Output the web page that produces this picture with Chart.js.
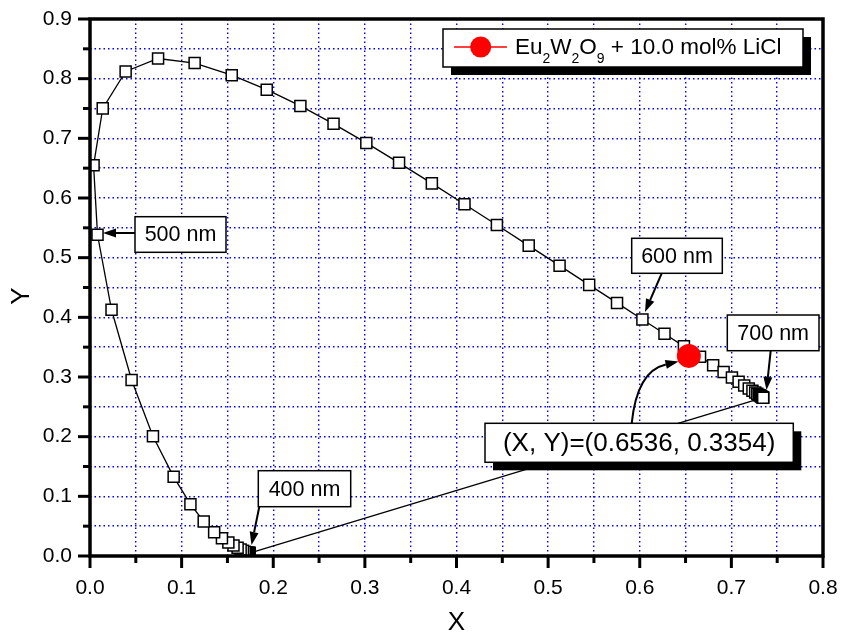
<!DOCTYPE html>
<html>
<head>
<meta charset="utf-8">
<title>CIE chromaticity</title>
<script src="https://cdn.jsdelivr.net/npm/chart.js@4/dist/chart.umd.min.js"></script>
<style>
  html, body { margin: 0; padding: 0; background: #fff; }
  #wrap { width: 849px; height: 636px; }
</style>
</head>
<body>
<div id="wrap"><canvas id="cie" width="849" height="636"></canvas></div>
<script>
// Spectral locus (CIE 1931), 380 - 700 nm every 5 nm
const locusX = [
  0.1741, 0.1740, 0.1738, 0.1736, 0.1733, 0.1730, 0.1726, 0.1721, 0.1714, 0.1703,
  0.1689, 0.1669, 0.1644, 0.1611, 0.1566, 0.1510, 0.1440, 0.1355, 0.1241, 0.1096,
  0.0913, 0.0687, 0.0454, 0.0235, 0.0082, 0.0039, 0.0139, 0.0389, 0.0743, 0.1142,
  0.1547, 0.1929, 0.2296, 0.2658, 0.3016, 0.3373, 0.3731, 0.4087, 0.4441, 0.4788,
  0.5125, 0.5448, 0.5752, 0.6029, 0.6270, 0.6482, 0.6658, 0.6801, 0.6915, 0.7006,
  0.7079, 0.7140, 0.7190, 0.7230, 0.7260, 0.7283, 0.7300, 0.7311, 0.7320, 0.7327,
  0.7334, 0.7340, 0.7344, 0.7346, 0.7347
];
const locusY = [
  0.0050, 0.0050, 0.0049, 0.0049, 0.0048, 0.0048, 0.0048, 0.0048, 0.0051, 0.0058,
  0.0069, 0.0086, 0.0109, 0.0138, 0.0177, 0.0227, 0.0297, 0.0399, 0.0578, 0.0868,
  0.1327, 0.2007, 0.2950, 0.4127, 0.5384, 0.6548, 0.7502, 0.8120, 0.8338, 0.8262,
  0.8059, 0.7816, 0.7543, 0.7243, 0.6923, 0.6589, 0.6245, 0.5896, 0.5547, 0.5202,
  0.4866, 0.4544, 0.4242, 0.3965, 0.3725, 0.3514, 0.3340, 0.3197, 0.3083, 0.2993,
  0.2920, 0.2859, 0.2809, 0.2770, 0.2740, 0.2717, 0.2700, 0.2689, 0.2680, 0.2673,
  0.2666, 0.2660, 0.2656, 0.2654, 0.2653
];

// Sample colour coordinate
const sampleX = [0.6536];
const sampleY = [0.3354];

const xTickLabels = ["0.0", "0.1", "0.2", "0.3", "0.4", "0.5", "0.6", "0.7", "0.8"];
const yTickLabels = ["0.0", "0.1", "0.2", "0.3", "0.4", "0.5", "0.6", "0.7", "0.8", "0.9"];

const FONT = '"Liberation Sans", Arial, Helvetica, sans-serif';

// Text boxes with arrows (pixel layout)
const notes = [
  { text: "500 nm", box: [135, 216.7, 91, 35.6], size: 21.5, from: [135, 233], to: [103, 233] },
  { text: "400 nm", box: [258.3, 470.7, 92.4, 36], size: 21.5, from: [259.3, 506.7], to: [251.5, 545] },
  { text: "600 nm", box: [631.7, 238.3, 90.6, 35], size: 21.5, from: [661.7, 273.3], to: [645, 312] },
  { text: "700 nm", box: [727.3, 315, 91.7, 35.7], size: 21.5, from: [770.7, 350.7], to: [766.5, 390] },
  { text: "(X, Y)=(0.6536, 0.3354)", box: [485, 423.3, 308.3, 39], size: 26, shadow: 8,
    from: [631.7, 423.3], ctrl: [637, 371], to: [678.5, 361.5] }
];

function arrowHead(ctx, tipX, tipY, dx, dy) {
  const len = Math.hypot(dx, dy);
  const ux = dx / len, uy = dy / len;
  const hl = 13, hw = 4.5;
  const bx = tipX - ux * hl, by = tipY - uy * hl;
  ctx.beginPath();
  ctx.moveTo(tipX, tipY);
  ctx.lineTo(bx - uy * hw, by + ux * hw);
  ctx.lineTo(bx + uy * hw, by - ux * hw);
  ctx.closePath();
  ctx.fill();
  return [bx, by];
}

function drawNote(ctx, n) {
  ctx.save();
  ctx.strokeStyle = "#000";
  ctx.fillStyle = "#000";
  ctx.lineWidth = 2;
  // arrow
  let dx, dy;
  if (n.ctrl) {
    dx = n.to[0] - n.ctrl[0]; dy = n.to[1] - n.ctrl[1];
  } else {
    dx = n.to[0] - n.from[0]; dy = n.to[1] - n.from[1];
  }
  const base = arrowHead(ctx, n.to[0], n.to[1], dx, dy);
  ctx.beginPath();
  ctx.moveTo(n.from[0], n.from[1]);
  if (n.ctrl) ctx.quadraticCurveTo(n.ctrl[0], n.ctrl[1], base[0], base[1]);
  else ctx.lineTo(base[0], base[1]);
  ctx.stroke();

  const [bx, by, bw, bh] = n.box;
  if (n.shadow) {
    ctx.fillStyle = "#000";
    ctx.fillRect(bx + n.shadow, by + n.shadow, bw, bh);
  }
  ctx.fillStyle = "#fff";
  ctx.fillRect(bx, by, bw, bh);
  ctx.lineWidth = 1.5;
  ctx.strokeRect(bx, by, bw, bh);
  ctx.fillStyle = "#000";
  ctx.font = n.size + "px " + FONT;
  ctx.textAlign = "center";
  ctx.textBaseline = "middle";
  ctx.fillText(n.text, bx + bw / 2, by + bh / 2 + 1);
  ctx.restore();
}

function drawLegend(ctx) {
  const bx = 443, by = 29, bw = 360, bh = 38, sh = 8;
  ctx.save();
  ctx.fillStyle = "#000";
  ctx.fillRect(bx + sh, by + sh, bw, bh);
  ctx.fillStyle = "#fff";
  ctx.fillRect(bx, by, bw, bh);
  ctx.strokeStyle = "#000";
  ctx.lineWidth = 1.5;
  ctx.strokeRect(bx, by, bw, bh);
  // symbol
  ctx.strokeStyle = "#ff0000";
  ctx.lineWidth = 1.5;
  ctx.beginPath();
  ctx.moveTo(454, 47);
  ctx.lineTo(507, 47);
  ctx.stroke();
  ctx.fillStyle = "#ff0000";
  ctx.beginPath();
  ctx.arc(480.7, 47, 10.5, 0, Math.PI * 2);
  ctx.fill();
  // text with subscripts
  const parts = [["Eu", 0], ["2", 1], ["W", 0], ["2", 1], ["O", 0], ["9", 1], [" + 10.0 mol% LiCl", 0]];
  let x = 515;
  ctx.fillStyle = "#000";
  ctx.textAlign = "left";
  ctx.textBaseline = "alphabetic";
  for (const [t, sub] of parts) {
    ctx.font = (sub ? 14 : 22.5) + "px " + FONT;
    ctx.fillText(t, x, sub ? 63 : 54);
    x += ctx.measureText(t).width;
  }
  ctx.restore();
}

const framePlugin = {
  id: "frame",
  afterDraw(chart) {
    const ctx = chart.ctx;
    const a = chart.chartArea;
    const xs = chart.scales.x, ys = chart.scales.y;
    ctx.save();
    ctx.setLineDash([]);
    ctx.strokeStyle = "#000";
    ctx.lineWidth = 3.5;
    ctx.lineCap = "square";
    ctx.strokeRect(a.left, a.top, a.right - a.left, a.bottom - a.top);
    // outward tick marks
    ctx.lineWidth = 3;
    ctx.lineCap = "butt";
    xs.ticks.forEach((t, i) => {
      const px = xs.getPixelForValue(t.value);
      const len = i % 2 === 0 ? 12 : 7;
      ctx.beginPath();
      ctx.moveTo(px, a.bottom);
      ctx.lineTo(px, a.bottom + len);
      ctx.stroke();
    });
    ys.ticks.forEach((t, i) => {
      const py = ys.getPixelForValue(t.value);
      const len = i % 2 === 0 ? 12 : 7;
      ctx.beginPath();
      ctx.moveTo(a.left, py);
      ctx.lineTo(a.left - len, py);
      ctx.stroke();
    });
    // axis titles
    ctx.fillStyle = "#000";
    ctx.font = "26px " + FONT;
    ctx.textAlign = "center";
    ctx.textBaseline = "middle";
    ctx.fillText("X", (a.left + a.right) / 2, 623);
    ctx.translate(22, 296);
    ctx.rotate(-Math.PI / 2);
    ctx.fillText("Y", 0, 0);
    ctx.restore();

    notes.forEach(n => drawNote(ctx, n));
    drawLegend(ctx);
  }
};

const locusPoints = locusX.map((x, i) => ({ x: x, y: locusY[i] }));
const closingLine = [
  { x: locusX[0], y: locusY[0] },
  { x: locusX[locusX.length - 1], y: locusY[locusY.length - 1] }
];
const samplePoints = sampleX.map((x, i) => ({ x: x, y: sampleY[i] }));

const gridOpts = { color: "#0000ff", lineWidth: 1.4, drawTicks: false };

new Chart(document.getElementById("cie").getContext("2d"), {
  type: "scatter",
  data: {
    datasets: [
      {
        label: "Eu2W2O9 + 10.0 mol% LiCl",
        data: samplePoints,
        pointStyle: "circle",
        pointRadius: 12,
        backgroundColor: "#ff0000",
        borderColor: "#ff0000",
        borderWidth: 0,
        showLine: false
      },
      {
        label: "Spectral locus",
        data: locusPoints,
        showLine: true,
        borderColor: "#000",
        borderWidth: 1.3,
        pointStyle: "rect",
        pointRadius: 7.8,
        pointBackgroundColor: "#fff",
        pointBorderColor: "#000",
        pointBorderWidth: 1.5
      },
      {
        label: "Purple line",
        data: closingLine,
        showLine: true,
        borderColor: "#000",
        borderWidth: 1.3,
        pointRadius: 0
      }
    ]
  },
  options: {
    responsive: false,
    animation: false,
    events: [],
    layout: { padding: { top: 19, right: 26, left: 0, bottom: 0 } },
    plugins: { legend: { display: false }, tooltip: { enabled: false } },
    scales: {
      x: {
        type: "linear",
        min: 0,
        max: 0.8,
        afterFit(s) { s.height = 80; s.paddingLeft = 0; s.paddingRight = 0; },
        grid: gridOpts,
        border: { display: false, dash: [1.5, 3] },
        ticks: {
          stepSize: 0.05,
          autoSkip: false,
          maxRotation: 0,
          padding: 20,
          color: "#000",
          font: { family: FONT, size: 21 },
          callback: (v, i) => (i % 2 === 0 ? xTickLabels[i / 2] : "")
        }
      },
      y: {
        type: "linear",
        min: 0,
        max: 0.9,
        afterFit(s) { s.width = 90; s.paddingTop = 0; s.paddingBottom = 0; },
        grid: gridOpts,
        border: { display: false, dash: [1.5, 3] },
        ticks: {
          stepSize: 0.05,
          autoSkip: false,
          padding: 18,
          color: "#000",
          font: { family: FONT, size: 21 },
          callback: (v, i) => (i % 2 === 0 ? yTickLabels[i / 2] : "")
        }
      }
    }
  },
  plugins: [framePlugin]
});
</script>
</body>
</html>
